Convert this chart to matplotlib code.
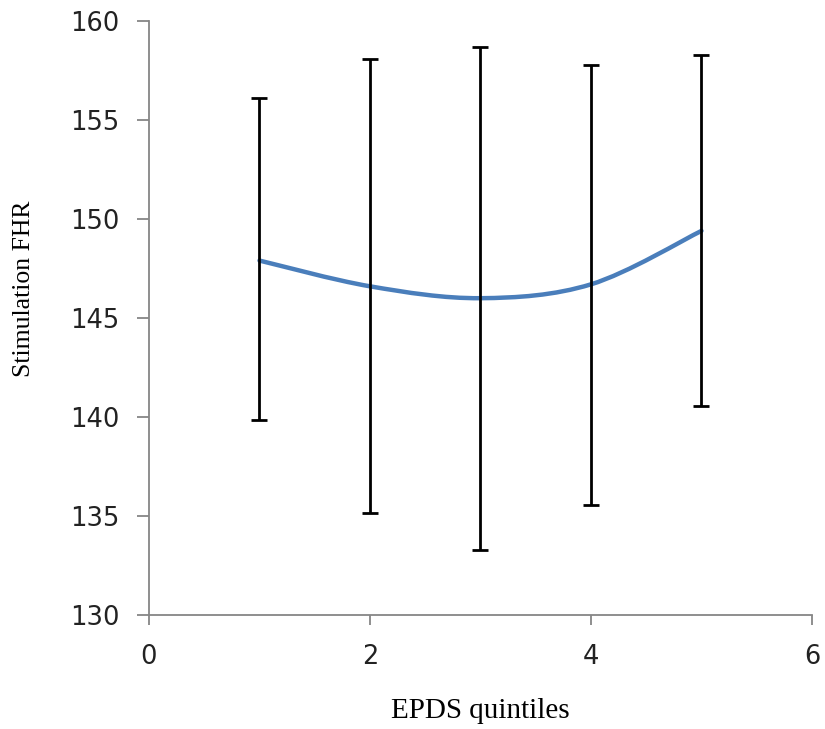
import numpy as np
import matplotlib.pyplot as plt
from matplotlib.path import Path
from matplotlib.patches import PathPatch

# EPDS quintiles and stimulation FHR (mean with upper / lower bounds)
quintiles = [1, 2, 3, 4, 5]
fhr_mean = [147.9, 146.6, 146.0, 146.7, 149.4]
fhr_upper = [156.1, 158.1, 158.7, 157.8, 158.3]
fhr_lower = [139.85, 135.15, 133.3, 135.55, 140.55]

x_ticks = [0, 2, 4, 6]
y_ticks = [130, 135, 140, 145, 150, 155, 160]

fig = plt.figure(figsize=(8.25, 7.29), dpi=100)
ax = fig.add_axes([0.1806, 0.1564, 0.8036, 0.8148])

# smoothed line (Excel style): cubic bezier through the points
pts = np.column_stack([quintiles, fhr_mean]).astype(float)
n = len(pts)
verts = [pts[0]]
codes = [Path.MOVETO]
for i in range(n - 1):
    p_prev = pts[i - 1] if i > 0 else pts[i]
    p_next2 = pts[i + 2] if i + 2 < n else pts[i + 1]
    c1 = pts[i] + (pts[i + 1] - p_prev) / 6
    c2 = pts[i + 1] - (p_next2 - pts[i]) / 6
    verts += [c1, c2, pts[i + 1]]
    codes += [Path.CURVE4] * 3
ax.add_patch(PathPatch(Path(verts, codes), facecolor='none',
                       edgecolor='#4A7EBB', linewidth=3.2, capstyle='round', zorder=2))

yerr = [np.array(fhr_mean) - np.array(fhr_lower), np.array(fhr_upper) - np.array(fhr_mean)]
ax.errorbar(quintiles, fhr_mean, yerr=yerr, fmt='none', ecolor='black',
            elinewidth=2.0, capsize=6, capthick=2.0, zorder=3)

ax.set_xlim(0, 6)
ax.set_ylim(130, 160)
ax.set_xticks(x_ticks)
ax.set_yticks(y_ticks)

for side in ['top', 'right']:
    ax.spines[side].set_visible(False)
for side in ['left', 'bottom']:
    ax.spines[side].set_color('#868686')
    ax.spines[side].set_linewidth(1.3)

ax.tick_params(axis='both', colors='#868686', labelcolor='#222222', labelsize=18.5,
               width=1.3, direction='out')
ax.tick_params(axis='y', length=8.5, pad=13)
ax.tick_params(axis='x', length=7, pad=14)
for lab in ax.get_xticklabels() + ax.get_yticklabels():
    lab.set_family('DejaVu Sans')

ax.set_xlabel('EPDS quintiles', family='Liberation Serif', fontsize=21, labelpad=20)
ax.set_ylabel('Stimulation FHR', family='Liberation Serif', fontsize=18.5)
ax.yaxis.set_label_coords(-0.172, 0.55)

fig.savefig('out.png', dpi=100)
